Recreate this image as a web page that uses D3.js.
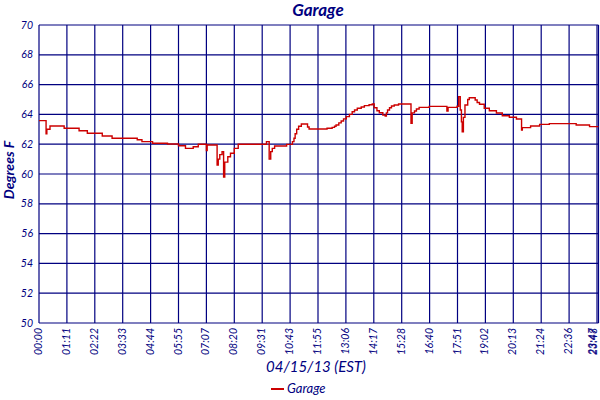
<!DOCTYPE html>
<html><head><meta charset="utf-8">
<script src="https://cdn.jsdelivr.net/npm/d3@7"></script>
<style>body{margin:0;background:#fff}svg{display:block}text{font-family:Lato,"Open Sans",sans-serif;font-style:italic;fill:#000080}</style>
</head><body><svg id="c" width="600" height="400"></svg>
<script>
const tickLabels = ["00:00","01:11","02:22","03:33","04:44","05:55","07:07","08:20","09:31","10:43","11:55","13:06","14:17","15:28","16:40","17:51","19:02","20:13","21:24","22:36","23:47","23:48"];
const yTicks = [50,52,54,56,58,60,62,64,66,68,70];
const times = ["00:00","00:17","00:18","00:20","00:28","01:04","01:42","02:03","02:41","03:06","04:10","04:22","04:49","05:27","05:55","06:13","06:33","06:46","07:07","07:09","07:35","07:38","07:42","07:48","07:52","07:55","08:03","08:10","08:20","08:30","09:42","09:49","09:53","09:57","10:03","10:34","10:49","10:53","10:56","11:00","11:05","11:12","11:28","11:32","12:18","12:31","12:37","12:41","12:48","12:54","13:00","13:07","13:15","13:22","13:28","13:35","13:45","13:53","14:05","14:13","14:18","14:25","14:31","14:40","14:46","14:49","14:52","14:57","15:02","15:09","15:20","15:52","15:55","16:01","16:06","16:13","16:39","17:24","17:27","17:50","17:54","17:58","18:01","18:03","18:06","18:10","18:17","18:21","18:36","18:41","18:47","18:59","19:12","19:30","19:45","20:03","20:21","20:34","20:36","20:57","21:20","21:45","22:54","23:28","23:48"];
const temps = [63.58,63.58,62.7,63.0,63.22,63.07,62.9,62.73,62.55,62.4,62.3,62.17,62.06,62.01,61.9,61.72,61.83,62.0,61.57,61.95,60.6,61.0,61.3,61.5,59.8,60.8,61.16,61.39,61.72,62.0,62.17,61.0,61.5,61.72,61.88,61.99,62.17,62.4,62.7,63.0,63.2,63.36,63.15,63.02,63.07,63.13,63.2,63.29,63.43,63.56,63.7,63.85,64.0,64.18,64.3,64.41,64.5,64.59,64.65,64.7,64.45,64.25,64.11,63.95,63.89,64.1,64.3,64.45,64.56,64.63,64.7,63.4,64.1,64.23,64.36,64.47,64.54,64.23,64.47,64.55,65.19,64.3,63.5,62.84,63.8,64.63,65.0,65.12,64.97,64.8,64.68,64.41,64.25,64.09,63.91,63.81,63.69,62.95,63.11,63.22,63.33,63.38,63.29,63.18,63.18];
const seriesName = "Garage";

const toMin = s => { const [h,m] = s.split(":").map(Number); return h*60+m; };
const L = 39, R = 597, T = 25, B = 323;
const svg = d3.select("#c");
const step = (R - L) / 20;
const tickMins = tickLabels.map(toMin);
const tickPos = tickLabels.map((d,i) => i <= 20 ? L + i*step : R + 1.5);
const x = d3.scaleLinear().domain(tickMins).range(tickPos);
const y = d3.scaleLinear().domain([50,70]).range([B, T]);
const navy = "#000080";

// grid
svg.append("g").selectAll("line").data(yTicks).join("line")
  .attr("x1", L).attr("x2", R + 1.5).attr("y1", d => y(d)).attr("y2", d => y(d))
  .attr("stroke", navy).attr("stroke-width", 1.2);
svg.append("g").selectAll("line").data(tickMins).join("line")
  .attr("x1", d => x(d)).attr("x2", d => x(d)).attr("y1", T).attr("y2", B)
  .attr("stroke", navy).attr("stroke-width", 1.2);

// y tick labels
svg.append("g").selectAll("text").data(yTicks).join("text")
  .attr("x", L - 6).attr("y", d => y(d) + 3.5).attr("text-anchor", "end")
  .attr("font-size", 10.5).text(d => d);

// x tick labels
svg.append("g").selectAll("text").data(tickLabels).join("text")
  .attr("transform", (d,i) => `translate(${x(tickMins[i]) + (i >= 20 ? -1.5 : 3)},${B + 5}) rotate(-90)`)
  .attr("text-anchor", "end").attr("font-size", 10.5).text(d => d);

// line
const pts = times.map((t,i) => [toMin(t), temps[i]]);
svg.append("path").datum(pts)
  .attr("fill", "none").attr("stroke", "#cc0000").attr("stroke-width", 1.4)
  .attr("d", d3.line().x(d => x(d[0])).y(d => y(d[1])).curve(d3.curveStepAfter));

// titles
svg.append("text").attr("x", 318).attr("y", 16).attr("text-anchor", "middle")
  .attr("font-size", 17).attr("font-weight", "bold").text(seriesName);
svg.append("text").attr("transform", `translate(14,170) rotate(-90)`).attr("text-anchor", "middle")
  .attr("font-size", 14).attr("font-weight", "bold").text("Degrees F");
svg.append("text").attr("x", 316).attr("y", 372).attr("text-anchor", "middle")
  .attr("font-size", 15).text("04/15/13 (EST)");

// legend
svg.append("line").attr("x1", 271).attr("x2", 284).attr("y1", 389).attr("y2", 389)
  .attr("stroke", "#cc0000").attr("stroke-width", 2);
svg.append("text").attr("x", 287).attr("y", 393).attr("font-size", 13).text(seriesName);
</script></body></html>
